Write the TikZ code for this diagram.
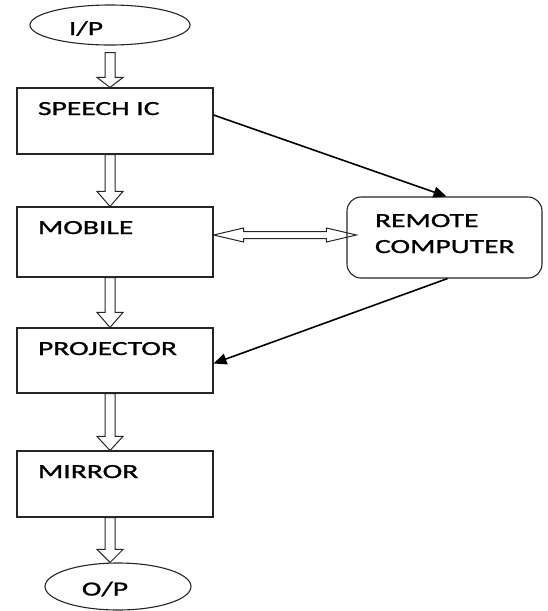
\documentclass[tikz,border=0pt]{standalone}
\usepackage{fontspec}
\setmainfont{Carlito}
\newfontfamily\lblfont[FakeStretch=1.48,FakeBold=1.2]{Carlito}
\usetikzlibrary{shapes.geometric,arrows.meta,calc}
\begin{document}
\begin{tikzpicture}[x=1pt,y=-1pt,
  lbl/.style={font=\lblfont\fontsize{20}{26}\selectfont, text=black},
  io/.style={ellipse, draw=black!85, line width=1.1pt, inner sep=0pt, lbl},
  box/.style={draw=black!85, line width=1.1pt, inner xsep=21pt, inner ysep=0pt,
    text width=154pt, align=left, text height=27pt, text depth=#1, lbl},
  rbox/.style={draw=black!85, line width=1.1pt, rounded corners=14pt, inner xsep=28pt,
    inner ysep=0pt, text width=139pt, align=left, text height=30pt, text depth=51pt, lbl},
  blockdown/.style={draw=black!85, line width=1pt, to path={
    ($(\tikztostart)+(-5pt,0pt)$) -- ($(\tikztotarget)+(-5pt,#1)$) -- ($(\tikztotarget)+(-13pt,#1)$)
    -- (\tikztotarget) -- ($(\tikztotarget)+(13pt,#1)$) -- ($(\tikztotarget)+(5pt,#1)$)
    -- ($(\tikztostart)+(5pt,0pt)$) -- cycle}},
  blockboth/.style={draw=black!85, line width=1pt, to path={
    (\tikztostart) -- ++(30pt,7pt) -- ++(0pt,-3.5pt) -- ($(\tikztotarget)+(-30pt,3.5pt)$)
    -- ++(0pt,3.5pt) -- (\tikztotarget) -- ++(-30pt,-7pt) -- ++(0pt,3.5pt)
    -- ($(\tikztostart)+(30pt,-3.5pt)$) -- ++(0pt,-3.5pt) -- cycle}},
  link/.style={draw=black, line width=1.6pt, -{Triangle[length=13pt,width=11pt]}}
]
\useasboundingbox (0,0) rectangle (548,611);

\node[io, minimum width=160pt, minimum height=40pt, text height=20pt, text depth=0pt]
  (ip) at (110,25) {I/P\hspace*{48pt}};
\node[box=39pt, minimum width=196pt] (speech) at (115,121) {SPEECH IC};
\node[box=43pt] (mobile) at (115,242) {MOBILE};
\node[box=38pt] (projector) at (115,360.5) {PROJECTOR};
\node[box=39pt] (mirror) at (115,484) {MIRROR};
\node[io, minimum width=146pt, minimum height=47pt, text height=18pt, text depth=0pt]
  (op) at (118,586.5) {O/P\hspace*{26pt}};
\node[rbox] (remote) at (444.5,237.5) {REMOTE\\COMPUTER};

\draw[blockdown=10pt] ([xshift=0pt,yshift=-7pt]ip.south) to ([xshift=-5pt]speech.north);
\draw[blockdown=15pt] ([xshift=-5pt]speech.south) to ([xshift=-5pt]mobile.north);
\draw[blockdown=15pt] ([xshift=-5pt]mobile.south) to ([xshift=-5pt]projector.north);
\draw[blockdown=14pt] ([xshift=-5pt]projector.south) to ([xshift=-5pt]mirror.north);
\draw[blockdown=13pt] ([xshift=-5pt]mirror.south) to ([xshift=-8pt]op.north);

\draw[blockboth] ([yshift=7pt]mobile.east) to ([xshift=10pt,yshift=2.5pt]remote.west);

\draw[link] ([yshift=6pt]speech.east) -- ([xshift=2pt]remote.north);
\draw[link] ([xshift=3pt]remote.south) -- ([yshift=-3pt]projector.east);
\end{tikzpicture}
\end{document}
